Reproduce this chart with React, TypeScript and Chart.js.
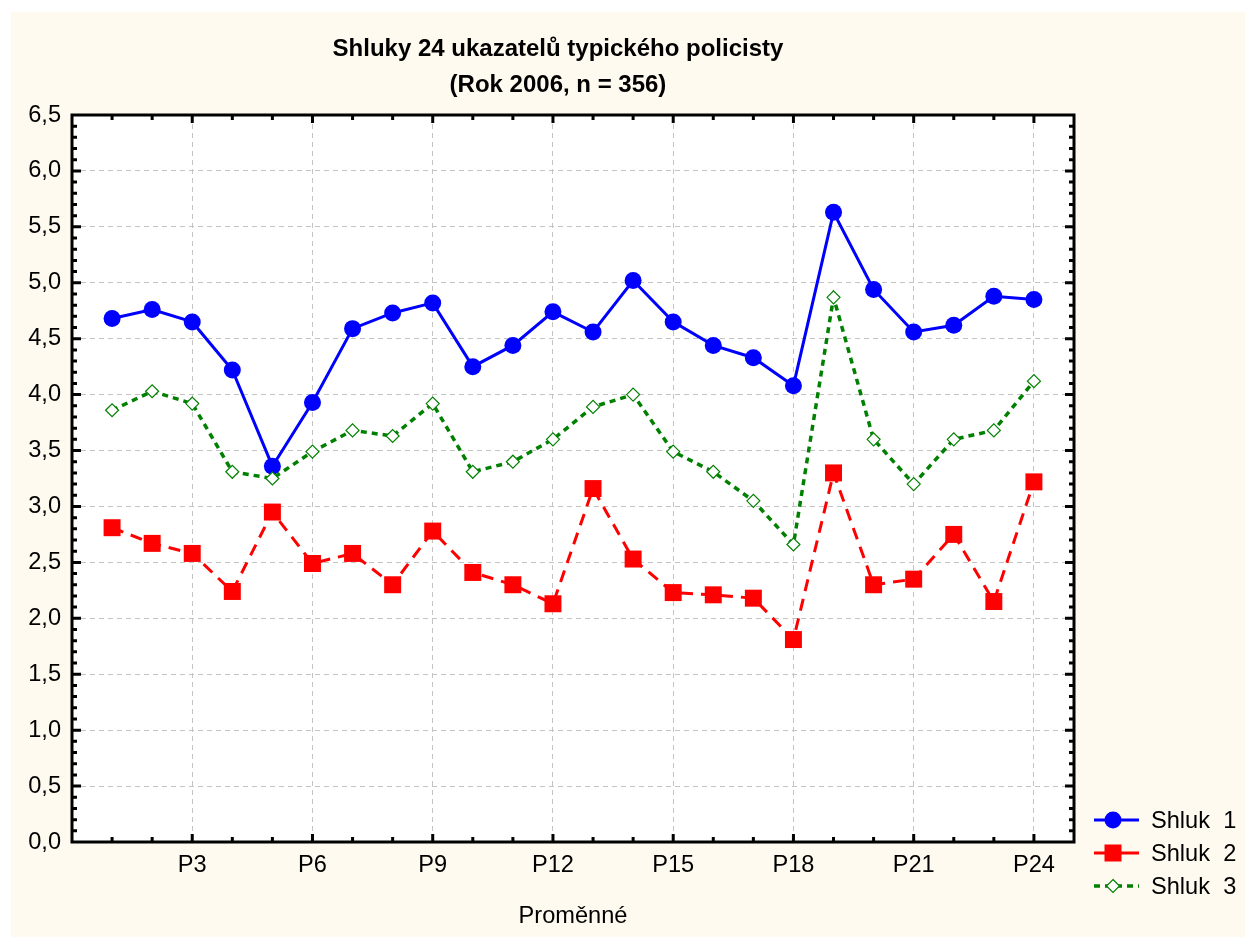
import React, { useEffect, useRef } from 'react';
import { Chart, registerables } from 'chart.js';

Chart.register(...registerables);

const categories = ['P1','P2','P3','P4','P5','P6','P7','P8','P9','P10','P11','P12','P13','P14','P15','P16','P17','P18','P19','P20','P21','P22','P23','P24'];
const shluk1 = [4.68,4.76,4.65,4.22,3.36,3.93,4.59,4.73,4.82,4.25,4.44,4.74,4.56,5.02,4.65,4.44,4.33,4.08,5.63,4.94,4.56,4.62,4.88,4.85];
const shluk2 = [2.81,2.67,2.58,2.24,2.95,2.49,2.58,2.30,2.78,2.41,2.30,2.13,3.16,2.53,2.23,2.21,2.18,1.81,3.30,2.30,2.35,2.75,2.15,3.22];
const shluk3 = [3.86,4.03,3.92,3.31,3.25,3.49,3.68,3.63,3.92,3.31,3.40,3.60,3.89,4.00,3.49,3.31,3.05,2.66,4.87,3.60,3.20,3.60,3.68,4.12];
const seriesNames = ['Shluk  1', 'Shluk  2', 'Shluk  3'];
const titleLines = ['Shluky 24 ukazatelů typického policisty', '(Rok 2006, n = 356)'];
const xAxisTitle = 'Proměnné';
const yTickLabels = ['0,0','0,5','1,0','1,5','2,0','2,5','3,0','3,5','4,0','4,5','5,0','5,5','6,0','6,5'];

const FONT = "'Liberation Sans', Arial, sans-serif";
const TXT = 23.6;
const CREAM = '#fffaef';
const BLUE = '#0000ff';
const RED = '#ff0000';
const GREEN = '#008000';

function toPoints(arr: number[]) {
  return arr.map((v, i) => ({ x: i + 1, y: v }));
}

function drawMarker(ctx: CanvasRenderingContext2D, kind: string, x: number, y: number) {
  ctx.save();
  if (kind === 'circle') {
    ctx.fillStyle = BLUE;
    ctx.beginPath();
    ctx.arc(x, y, 8.5, 0, Math.PI * 2);
    ctx.fill();
  } else if (kind === 'rect') {
    ctx.fillStyle = RED;
    ctx.fillRect(x - 8.5, y - 8.5, 17, 17);
  } else {
    ctx.fillStyle = '#ffffff';
    ctx.strokeStyle = GREEN;
    ctx.lineWidth = 1.2;
    ctx.beginPath();
    ctx.moveTo(x, y - 6.5);
    ctx.lineTo(x + 6.5, y);
    ctx.lineTo(x, y + 6.5);
    ctx.lineTo(x - 6.5, y);
    ctx.closePath();
    ctx.fill();
    ctx.stroke();
  }
  ctx.restore();
}

const decorPlugin = {
  id: 'decor',
  beforeDraw(chart: any) {
    const { ctx, chartArea: a, width, height } = chart;
    ctx.save();
    ctx.fillStyle = CREAM;
    ctx.fillRect(0, 0, width, height);
    ctx.fillStyle = '#ffffff';
    ctx.fillRect(a.left, a.top, a.right - a.left, a.bottom - a.top);
    ctx.restore();
  },
  afterDraw(chart: any) {
    const { ctx, chartArea: a } = chart;
    const xs = chart.scales.x;
    const ys = chart.scales.y;
    ctx.save();
    ctx.strokeStyle = '#000000';
    ctx.lineWidth = 3;
    ctx.lineCap = 'butt';
    for (let i = 1; i < 25; i++) {
      const px = xs.getPixelForValue(i);
      const len = i % 3 === 0 ? 8 : 5;
      ctx.beginPath();
      ctx.moveTo(px, a.bottom);
      ctx.lineTo(px, a.bottom - len);
      ctx.moveTo(px, a.top);
      ctx.lineTo(px, a.top + len);
      ctx.stroke();
    }
    for (let k = 1; k < 65; k++) {
      const v = k / 10;
      const py = ys.getPixelForValue(v);
      const len = k % 5 === 0 ? 9 : 5;
      ctx.beginPath();
      ctx.moveTo(a.left, py);
      ctx.lineTo(a.left + len, py);
      ctx.moveTo(a.right, py);
      ctx.lineTo(a.right - len, py);
      ctx.stroke();
    }
    ctx.strokeRect(a.left, a.top, a.right - a.left, a.bottom - a.top);

    ctx.fillStyle = '#000000';
    ctx.font = `bold 24px ${FONT}`;
    ctx.textAlign = 'center';
    ctx.textBaseline = 'middle';
    const tx = a.left + (a.right - a.left) * 0.485;
    ctx.fillText(titleLines[0], tx, 37);
    ctx.fillText(titleLines[1], tx, 73);

    const rows = [808, 841, 874];
    const kinds = ['circle', 'rect', 'diamond'];
    const colors = [BLUE, RED, GREEN];
    const lx0 = a.right + 20;
    const lx1 = a.right + 65;
    const mx = a.right + 39;
    for (let i = 0; i < 3; i++) {
      const y = rows[i];
      ctx.save();
      ctx.strokeStyle = colors[i];
      ctx.lineWidth = i === 2 ? 3.5 : 3;
      if (i === 2) ctx.setLineDash([6, 5]);
      ctx.beginPath();
      ctx.moveTo(lx0, y);
      ctx.lineTo(lx1, y);
      ctx.stroke();
      ctx.restore();
      drawMarker(ctx, kinds[i], mx, y);
      ctx.fillStyle = '#000000';
      ctx.font = `${TXT}px ${FONT}`;
      ctx.textAlign = 'left';
      ctx.textBaseline = 'middle';
      ctx.fillText(seriesNames[i], a.right + 77, y + 1);
    }
    ctx.restore();
  },
};

export default function App() {
  const ref = useRef<HTMLCanvasElement | null>(null);
  useEffect(() => {
    if (!ref.current) return;
    const chart = new Chart(ref.current, {
      type: 'line',
      data: {
        datasets: [
          {
            label: seriesNames[0],
            data: toPoints(shluk1),
            borderColor: BLUE,
            backgroundColor: BLUE,
            borderWidth: 3,
            pointStyle: 'circle',
            pointRadius: 8.5,
            pointBorderWidth: 0,
            pointBackgroundColor: BLUE,
            tension: 0,
            order: 2,
          },
          {
            label: seriesNames[1],
            data: toPoints(shluk2),
            borderColor: RED,
            backgroundColor: RED,
            borderWidth: 3,
            borderDash: [12, 8],
            pointStyle: 'rect',
            pointRadius: 12,
            pointBorderWidth: 0,
            pointBackgroundColor: RED,
            tension: 0,
            order: 1,
          },
          {
            label: seriesNames[2],
            data: toPoints(shluk3),
            borderColor: GREEN,
            backgroundColor: '#ffffff',
            borderWidth: 3.5,
            borderDash: [6, 5],
            pointStyle: 'rectRot',
            pointRadius: 6.5,
            pointBorderWidth: 1.2,
            pointBorderColor: GREEN,
            pointBackgroundColor: '#ffffff',
            tension: 0,
            order: 0,
          },
        ],
      },
      options: {
        animation: false,
        responsive: false,
        maintainAspectRatio: false,
        layout: { padding: { top: 103, right: 171, left: 0, bottom: 0 } },
        plugins: {
          legend: { display: false },
          title: { display: false },
          tooltip: { enabled: false },
        },
        scales: {
          x: {
            type: 'linear',
            min: 0,
            max: 25,
            afterFit: (s: any) => { s.height = 95; },
            ticks: {
              stepSize: 1,
              autoSkip: false,
              maxRotation: 0,
              padding: 9,
              color: '#000000',
              font: { family: FONT, size: TXT },
              callback: (v: any) => {
                const n = Number(v);
                return n > 0 && n <= 24 && n % 3 === 0 ? categories[n - 1] : '';
              },
            },
            grid: {
              drawTicks: false,
              lineWidth: 1,
              color: (c: any) => {
                const n = c.tick ? c.tick.value : 0;
                return n > 0 && n < 25 && n % 3 === 0 ? '#c4c4c4' : 'rgba(0,0,0,0)';
              },
            },
            border: { display: false, dash: [5, 4] },
            title: {
              display: true,
              text: xAxisTitle,
              color: '#000000',
              font: { family: FONT, size: TXT },
              padding: { top: 0, bottom: 6 },
            },
          },
          y: {
            type: 'linear',
            min: 0,
            max: 6.5,
            afterFit: (s: any) => { s.width = 61; },
            ticks: {
              stepSize: 0.5,
              padding: 11,
              color: '#000000',
              font: { family: FONT, size: TXT },
              callback: (v: any) => {
                const idx = Math.round(Number(v) / 0.5);
                return yTickLabels[idx] ?? '';
              },
            },
            grid: {
              drawTicks: false,
              lineWidth: 1,
              color: (c: any) => {
                const n = c.tick ? c.tick.value : 0;
                return n > 0.01 && n < 6.49 ? '#c4c4c4' : 'rgba(0,0,0,0)';
              },
            },
            border: { display: false, dash: [5, 4] },
          },
        },
      },
      plugins: [decorPlugin],
    } as any);
    return () => chart.destroy();
  }, []);

  return (
    <div style={{ position: 'absolute', left: 11, top: 12, width: 1234, height: 925 }}>
      <canvas ref={ref} width={1234} height={925} style={{ display: 'block', width: 1234, height: 925 }} />
    </div>
  );
}
